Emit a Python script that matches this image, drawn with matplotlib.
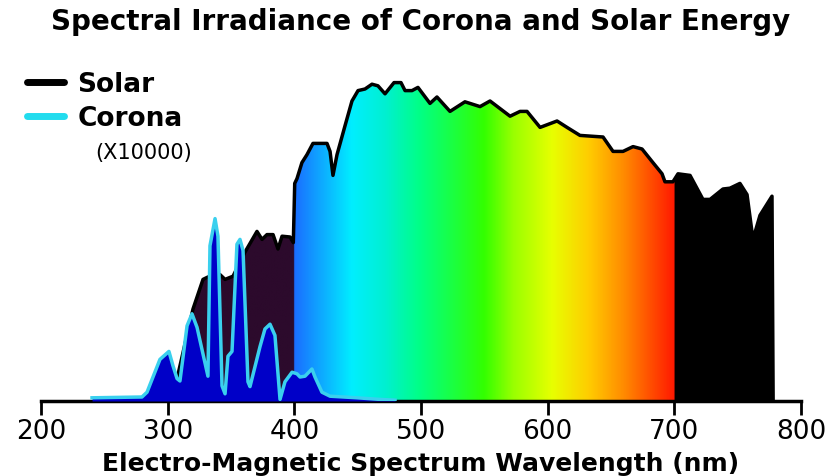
import numpy as np
import matplotlib
matplotlib.use('Agg')
import matplotlib.pyplot as plt
from matplotlib.colors import LinearSegmentedColormap, to_rgb
from matplotlib.patches import Polygon
from matplotlib.lines import Line2D

# solar spectrum outline (nm, W/m^2/nm)
solar_wl = [290.0, 301.8, 307.4, 320.0, 327.9, 331.8, 341.3, 345.3, 351.6, 361.0,
            370.5, 374.5, 378.4, 383.2, 387.1, 390.3, 396.6, 399.2, 400.3, 402.1,
            406.0, 410.0, 414.7, 425.8, 428.2, 430.5, 433.7, 440.0, 445.5, 450.3,
            455.8, 461.3, 466.0, 471.6, 478.7, 484.2, 487.4, 492.9, 497.6, 507.1,
            512.6, 522.9, 534.7, 546.6, 554.5, 570.3, 578.2, 583.7, 594.0, 607.4,
            615.3, 625.5, 643.7, 651.6, 659.5, 667.4, 674.5, 683.1, 690.3, 692.6,
            698.9, 702.9, 712.4, 722.6, 728.2, 738.4, 743.9, 751.8, 757.4, 762.1,
            767.6, 777.1, 778.0]
solar_val = [0.0, 0.04, 0.14, 0.575, 0.76, 0.775, 0.79, 0.76, 0.78, 0.93,
             1.06, 1.01, 1.04, 1.04, 0.95, 1.03, 1.025, 0.99, 1.36, 1.39,
             1.49, 1.54, 1.61, 1.61, 1.56, 1.41, 1.54, 1.72, 1.875, 1.94,
             1.95, 1.98, 1.97, 1.92, 1.99, 1.99, 1.94, 1.94, 1.96, 1.86,
             1.90, 1.81, 1.87, 1.84, 1.875, 1.78, 1.81, 1.81, 1.71, 1.75,
             1.71, 1.66, 1.65, 1.56, 1.56, 1.59, 1.575, 1.49, 1.42, 1.37,
             1.37, 1.42, 1.41, 1.26, 1.26, 1.325, 1.33, 1.36, 1.29, 1.01,
             1.16, 1.28, 0.0]

# corona spectrum (x10000)
corona_wl = [240.3, 279.7, 283.7, 293.9, 301.0, 304.2, 307.4, 309.7, 315.3, 319.2,
             323.2, 331.8, 333.4, 337.4, 339.7, 342.9, 345.3, 347.6, 350.8, 354.7,
             357.1, 359.5, 363.4, 365.0, 372.9, 376.8, 380.8, 384.7, 388.7, 392.6,
             398.2, 402.1, 404.5, 408.4, 413.9, 416.3, 421.8, 428.2, 449.5, 467.6,
             479.5]
corona_val = [0.02, 0.025, 0.055, 0.26, 0.31, 0.22, 0.14, 0.125, 0.47, 0.545,
              0.46, 0.155, 0.97, 1.14, 1.03, 0.095, 0.045, 0.28, 0.31, 0.98,
              1.01, 0.94, 0.12, 0.09, 0.34, 0.45, 0.48, 0.41, 0.01, 0.12,
              0.18, 0.17, 0.15, 0.155, 0.20, 0.15, 0.055, 0.03, 0.02, 0.01,
              0.005]

# visible colours
rainbow_nm = [400, 445, 472, 498, 550, 573, 604, 633, 660, 700]
rainbow_col = ['#1a6eff', '#00eeff', '#00f0d0', '#00ff88', '#33ff00',
               '#99ff00', '#e8ff00', '#ffcc00', '#ff8c00', '#ff1a00']

uv_col = '#2c0a2c'
ir_col = '#000000'
corona_fill = '#0000c8'
corona_line = '#3ad0ee'

fig = plt.figure(figsize=(8.31, 4.77), dpi=100)
ax = fig.add_axes([41 / 831, 75 / 477, 760 / 831, 336 / 477])

# colour strip image for the solar fill
pos = [(n - 400) / 300 for n in rainbow_nm]
cmap = LinearSegmentedColormap.from_list('vis', list(zip(pos, rainbow_col)))
grid = np.linspace(280, 780, 1500)
img = np.zeros((2, len(grid), 3))
for i, w in enumerate(grid):
	if w < 400:
		c = to_rgb(uv_col)
	elif w > 700:
		c = to_rgb(ir_col)
	else:
		c = cmap((w - 400) / 300)[:3]
	img[:, i, :] = c

poly = Polygon(np.column_stack([solar_wl, solar_val]), closed=True,
               facecolor='none', edgecolor='none')
ax.add_patch(poly)
im = ax.imshow(img, extent=[280, 780, 0, 2.1], aspect='auto', origin='lower',
               interpolation='bilinear', zorder=1)
im.set_clip_path(poly)

ax.plot(solar_wl, solar_val, color='black', lw=2.5, zorder=2)

ax.fill_between(corona_wl, corona_val, 0, color=corona_fill, lw=0, zorder=3)
ax.plot(corona_wl, corona_val, color=corona_line, lw=2.5, zorder=4)

ax.set_xlim(200, 800)
ax.set_ylim(0, 2.1)
ax.set_xticks([200, 300, 400, 500, 600, 700, 800])
ax.tick_params(axis='x', direction='out', length=10, width=2, labelsize=19, pad=2)
ax.set_yticks([])
for s in ['top', 'right', 'left']:
	ax.spines[s].set_visible(False)
ax.spines['bottom'].set_linewidth(2.5)

ax.set_xlabel('Electro-Magnetic Spectrum Wavelength (nm)', fontsize=18,
              fontweight='bold', labelpad=5)
fig.text(421 / 831, 1 - 22 / 477, 'Spectral Irradiance of Corona and Solar Energy',
         ha='center', va='center', fontsize=20, fontweight='bold')

handles = [Line2D([0], [0], color='black', lw=5, solid_capstyle='round'),
           Line2D([0], [0], color='#22dcee', lw=5, solid_capstyle='round')]
fig.legend(handles, ['Solar', 'Corona'], loc='upper left',
           bbox_to_anchor=(27 / 831, 1 - 72 / 477), frameon=False,
           prop={'weight': 'bold', 'size': 19}, handlelength=1.4,
           handletextpad=0.5, labelspacing=0.3, borderpad=0, borderaxespad=0)
fig.text(95 / 831, 1 - 153 / 477, '(X10000)', ha='left', va='center', fontsize=15)

fig.savefig('out.png', dpi=100)
